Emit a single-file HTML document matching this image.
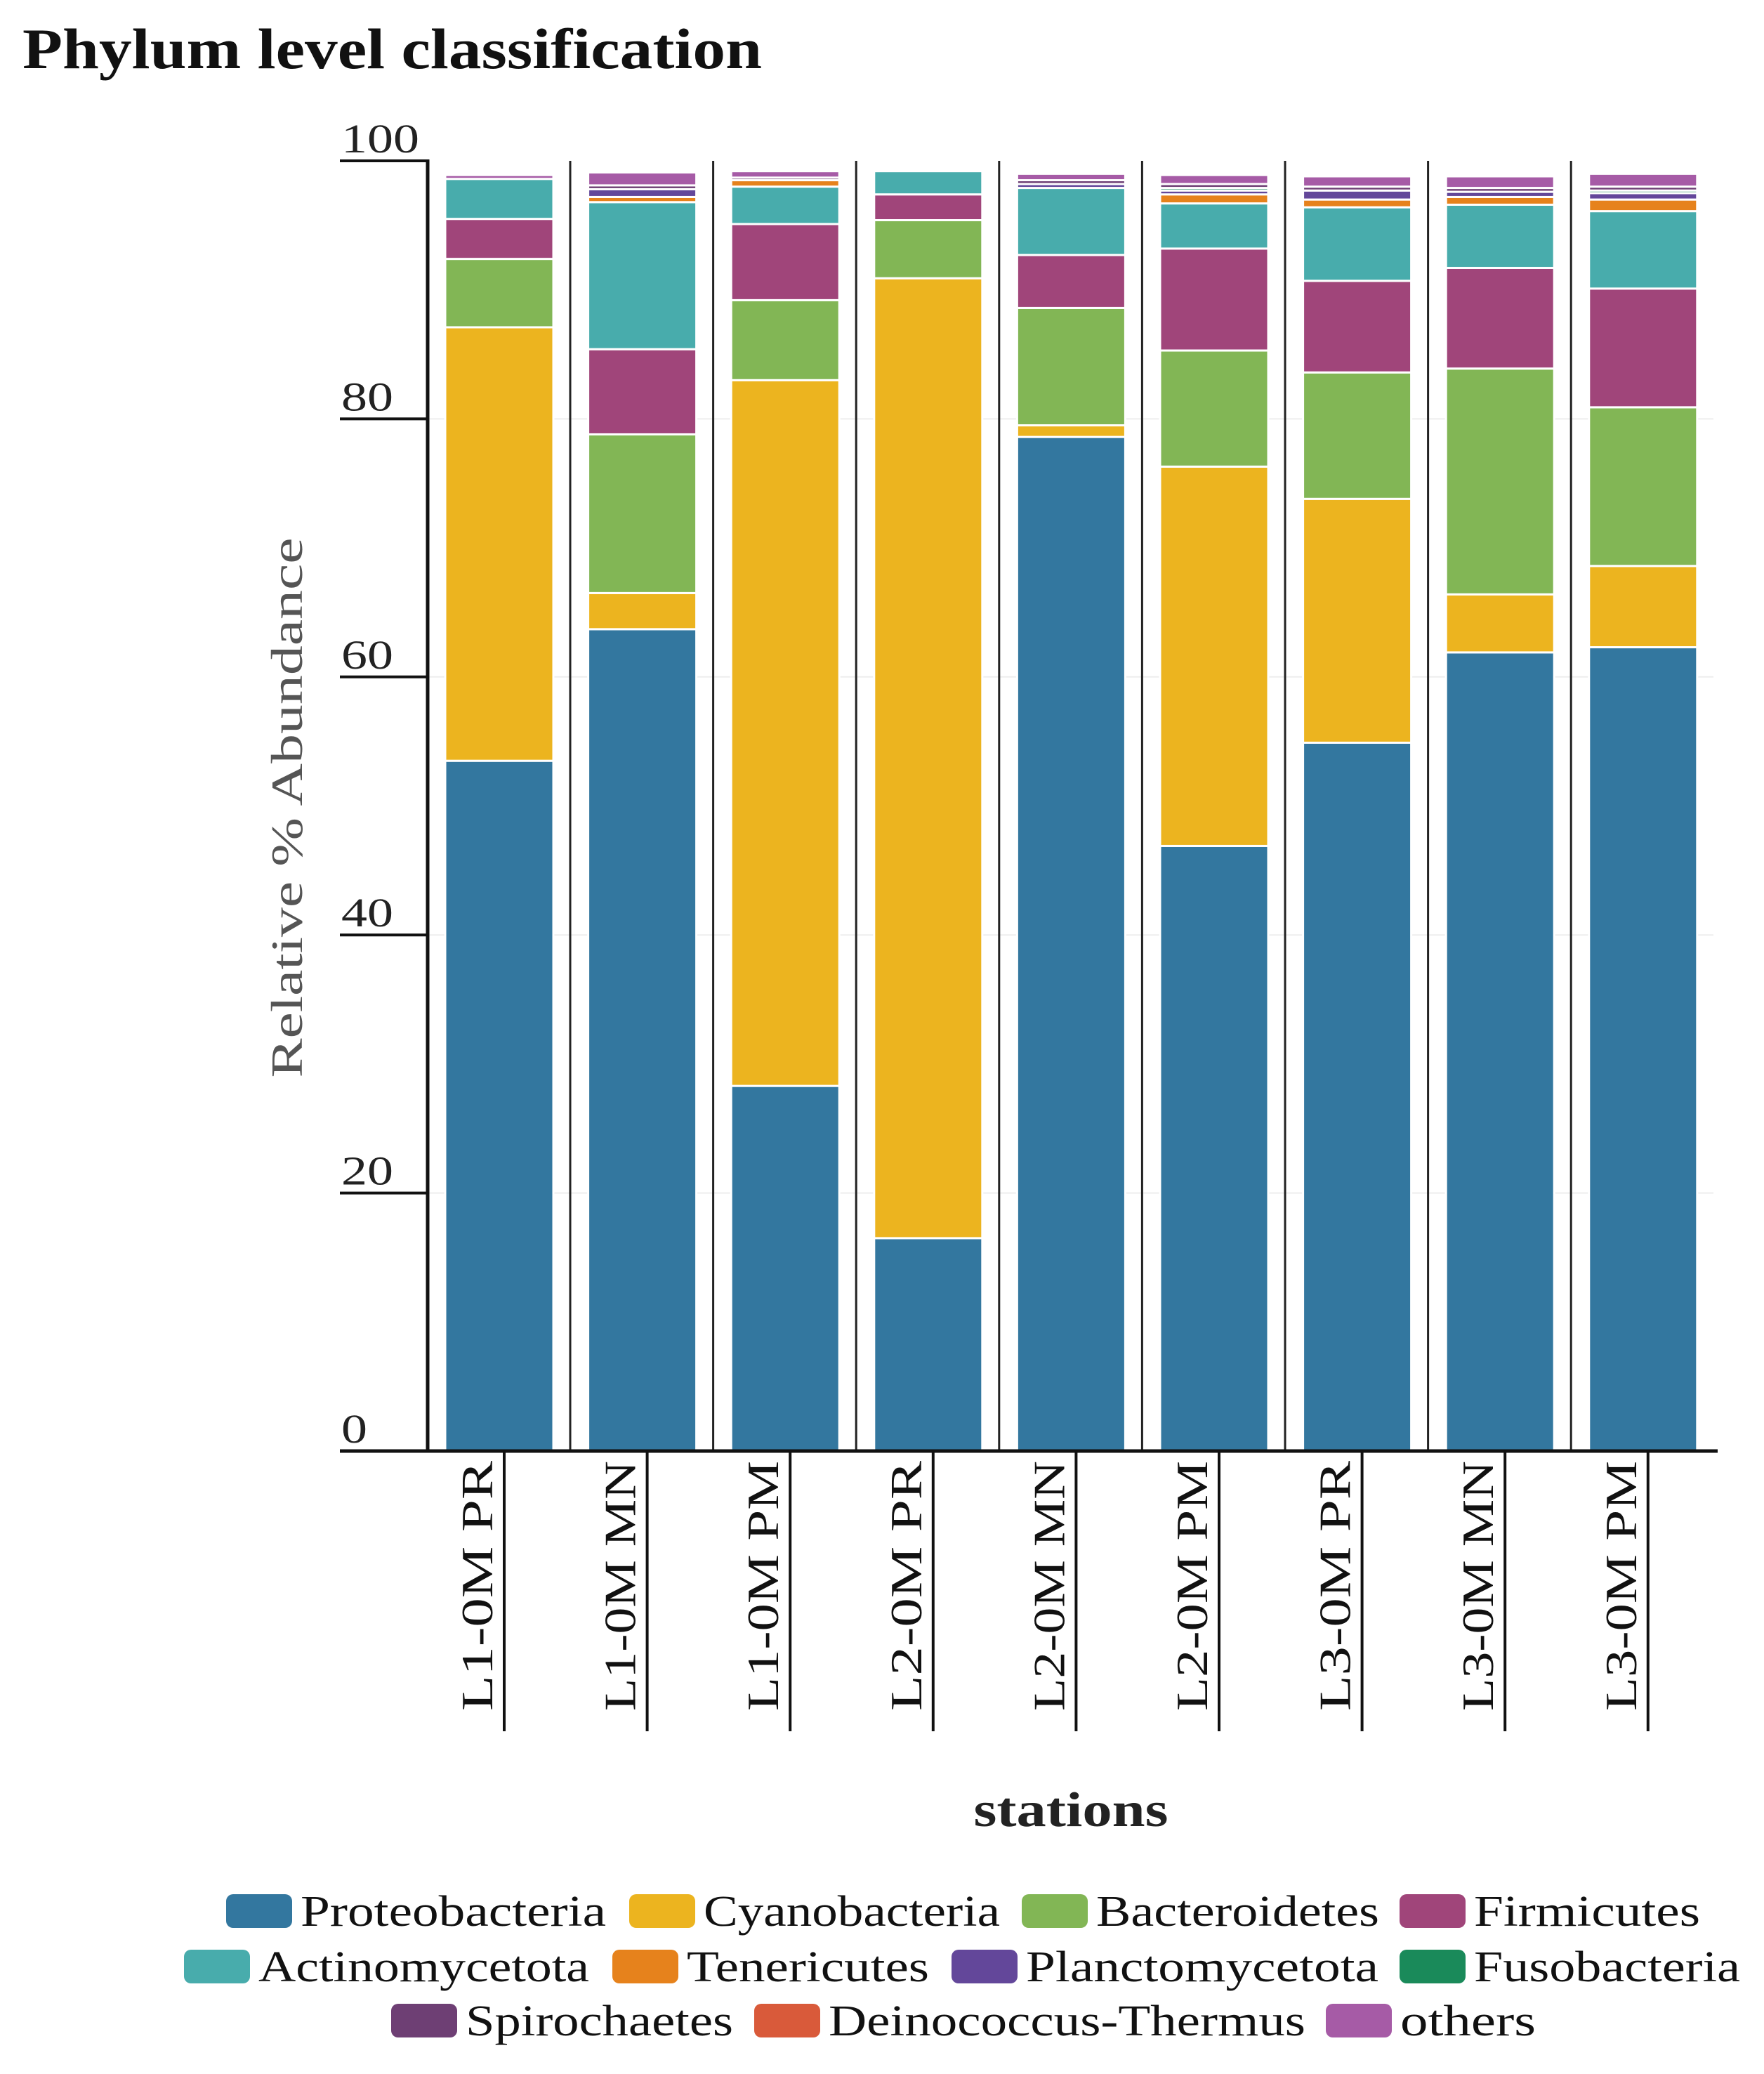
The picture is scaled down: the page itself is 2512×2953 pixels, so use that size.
<!DOCTYPE html>
<html><head><meta charset="utf-8"><style>
body{margin:0;background:#fff;}
svg text{font-family:"Liberation Serif",serif;}
</style></head><body>
<svg id="chart" width="2512" height="2948" viewBox="0 0 2512 2948" xmlns="http://www.w3.org/2000/svg">
<text x="32" y="97" font-size="82" font-weight="bold" fill="#111" textLength="1053" lengthAdjust="spacingAndGlyphs">Phylum level classification</text>
<g id="grid"></g>
<g id="bars"></g>
<g id="axes"></g>
<text transform="translate(430,1150) rotate(-90)" text-anchor="middle" font-size="64" fill="#555" textLength="769" lengthAdjust="spacingAndGlyphs">Relative % Abundance</text>
<text x="1525" y="2600" text-anchor="middle" font-size="70" font-weight="bold" fill="#222" textLength="277" lengthAdjust="spacingAndGlyphs">stations</text>
<g id="legend"></g>
</svg>
<script>
const categories=["L1-0M PR","L1-0M MN","L1-0M PM","L2-0M PR","L2-0M MN","L2-0M PM","L3-0M PR","L3-0M MN","L3-0M PM"];
const seriesNames=["Proteobacteria","Cyanobacteria","Bacteroidetes","Firmicutes","Actinomycetota","Tenericutes","Planctomycetota","Fusobacteria","Spirochaetes","Deinococcus-Thermus","others"];
const proteobacteria=[53.5,63.7,28.3,16.5,78.6,46.9,54.9,61.9,62.3];
const cyanobacteria=[33.6,2.8,54.7,74.4,0.9,29.4,18.9,4.5,6.3];
const bacteroidetes=[5.3,12.3,6.2,4.5,9.1,9.0,9.8,17.5,12.3];
const firmicutes=[3.1,6.6,5.9,2.0,4.1,7.9,7.1,7.8,9.2];
const actinomycetota=[3.1,11.4,2.9,1.8,5.2,3.5,5.7,4.9,6.0];
const tenericutes=[0,0.4,0.5,0,0,0.7,0.6,0.6,0.9];
const planctomycetota=[0,0.6,0,0,0.3,0.3,0.7,0.4,0.5];
const fusobacteria=[0,0,0,0,0,0.2,0,0,0.2];
const spirochaetes=[0,0.3,0.2,0,0.3,0.3,0.3,0.3,0.3];
const deinococcus=[0,0,0,0,0,0,0,0,0];
const others=[0.3,1.0,0.5,0,0.5,0.7,0.8,0.9,1.0];
const yTicks=[0,20,40,60,80,100];
const series=[proteobacteria,cyanobacteria,bacteroidetes,firmicutes,actinomycetota,tenericutes,planctomycetota,fusobacteria,spirochaetes,deinococcus,others];
const colors=["#33779f","#ecb41f","#82b655","#a0457a","#48acac","#e6821c","#63479a","#1a8a5a","#6e3f74","#d95a3a","#a65ba6"];
const legendWidths=[435,422,403,322,471,345,502,379,381,679,193];
const NS="http://www.w3.org/2000/svg";
const y0=2066,y100=229,axisX=609;
const yScale=v=>y0-(y0-y100)*v/100;
const xLeft=i=>634+i*203.6;
const bw=154;
function mk(tag,attrs,parent){const e=document.createElementNS(NS,tag);for(const k in attrs)e.setAttribute(k,attrs[k]);parent.appendChild(e);return e;}
const grid=document.getElementById('grid'),bars=document.getElementById('bars'),axes=document.getElementById('axes'),legend=document.getElementById('legend');
yTicks.forEach(t=>{
  const y=yScale(t);
  if(t>0&&t<100){const g=mk('line',{x1:axisX,x2:2440,y1:y,y2:y,stroke:'#eeeeee','stroke-width':2},grid);
  
  }
  const tl=mk('line',{x1:484,x2:axisX,y1:y,y2:y,stroke:'#111','stroke-width':4},axes);
  
  
  const s=String(t);
  const tx=mk('text',{x:486,y:y-12,'font-size':58,fill:'#222',textLength:s.length*37,lengthAdjust:'spacingAndGlyphs'},axes);
  tx.textContent=s;
  
  
});
categories.forEach((c,i)=>{
  let cum=0;const x=xLeft(i);
  series.forEach((s,k)=>{
    const v=s[i];if(v<=0)return;
    const r=mk('rect',{x:x,y:yScale(cum+v),width:bw,height:yScale(cum)-yScale(cum+v),fill:colors[k],stroke:'#fff','stroke-width':3},bars);
    
    
    cum+=v;
  });
  if(i<categories.length-1){const sx=x+bw+24;
    const sp=mk('line',{x1:sx,x2:sx,y1:y100,y2:y0,stroke:'#222','stroke-width':3},axes);
    
    }
  const cx=x+bw/2;
  const tk=mk('line',{x1:cx+7,x2:cx+7,y1:y0,y2:2465,stroke:'#111','stroke-width':4},axes);
  
  
  const lb=mk('text',{transform:`translate(${cx-10},2080) rotate(-90)`,'text-anchor':'end','font-size':64,fill:'#111',textLength:356,lengthAdjust:'spacingAndGlyphs'},axes);
  lb.textContent=c;
  
  
});
const ax=mk('line',{x1:axisX,x2:axisX,y1:y100-2,y2:y0,stroke:'#111','stroke-width':5},axes);


const xa=mk('line',{x1:484,x2:2446,y1:y0,y2:y0,stroke:'#111','stroke-width':5},axes);


const legPos=[[322,2722],[896,2722],[1455,2722],[1993,2722],[262,2801],[872,2801],[1355,2801],[1993,2801],[557,2878],[1074,2878],[1888,2878]];
seriesNames.forEach((n,k)=>{
  const [lx,ly]=legPos[k];
  const sw=mk('rect',{x:lx,y:ly-25,width:94,height:48,rx:10,fill:colors[k]},legend);
  
  
  const t=mk('text',{x:lx+106,y:ly+20,'font-size':62,fill:'#111',textLength:legendWidths[k],lengthAdjust:'spacingAndGlyphs'},legend);
  t.textContent=n;
  
  
});
</script>
</body></html>
